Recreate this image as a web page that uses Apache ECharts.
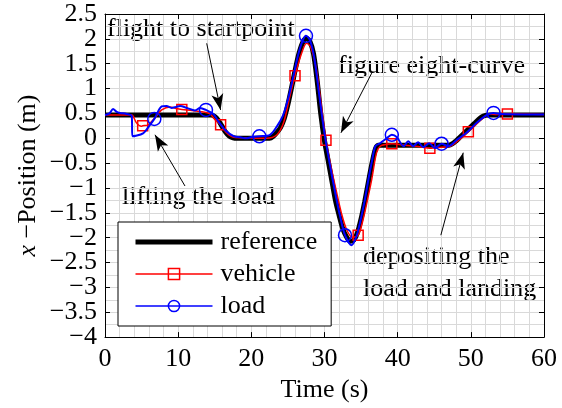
<!DOCTYPE html>
<html>
<head>
<meta charset="utf-8">
<script src="https://cdn.jsdelivr.net/npm/echarts@6/dist/echarts.min.js"></script>
<style>
  html, body { margin: 0; padding: 0; background: #fff; }
  #chart { width: 562px; height: 408px; }
</style>
</head>
<body>
<div id="chart"></div>
<script>
// values (time in s, position in m)
const refT = [0, 14.5, 15, 15.5, 16, 16.5, 17, 17.5, 18, 22.5, 23, 23.5, 24, 24.5, 25, 25.5, 26, 26.5, 27, 27.5,
  28, 28.5, 29, 29.5, 30, 30.5, 31, 31.5, 32, 32.5, 33, 33.5, 34, 34.5, 35, 35.5, 36, 36.5, 37, 37.4,
  47, 47.5, 48, 48.5, 49, 49.5, 50, 50.5, 51, 51.5, 52, 52.5, 60];
const refX = [0.47, 0.47, 0.44, 0.36, 0.24, 0.12, 0.04, 0.01, 0, 0, 0.04, 0.12, 0.22, 0.40, 0.68, 1.02, 1.38, 1.70, 1.92, 2.01,
  1.95, 1.70, 1.15, 0.48, -0.05, -0.45, -0.85, -1.25, -1.55, -1.82, -1.98, -2.07, -2.05, -1.90, -1.62, -1.27, -0.88, -0.50, -0.20, -0.14,
  -0.14, -0.11, -0.05, 0.02, 0.09, 0.16, 0.23, 0.30, 0.37, 0.43, 0.46, 0.47, 0.47];

const vehT = [0, 3.7, 3.9, 4.3, 4.97, 5.15, 5.9, 6.83, 7.75, 8.9, 9.7, 10.5, 11.85, 13, 14.35, 15, 15.8, 16.6, 17.6, 19.4,
  22.1, 23.5, 24.4, 25.2, 25.97, 26.87, 27.55, 28.1, 28.9, 29.6, 30.2, 30.9, 31.67, 32.3, 33, 33.8, 34.6, 35.3, 35.9, 36.45,
  37.1, 37.6, 38.5, 39.2, 41, 43, 44.4, 46, 47.2, 48, 49, 49.66, 50.7, 51.7, 52.6, 53.5, 55, 60];
const vehX = [0.47, 0.47, 0.43, 0.31, 0.24, 0.25, 0.27, 0.41, 0.57, 0.63, 0.60, 0.58, 0.56, 0.54, 0.49, 0.38, 0.27, 0.11, 0.02, 0.01,
  0, 0.07, 0.31, 0.80, 1.26, 1.71, 1.91, 1.84, 1.38, 0.62, -0.04, -0.58, -1.10, -1.50, -1.83, -1.99, -1.95, -1.62, -1.22, -0.83,
  -0.30, -0.16, -0.12, -0.11, -0.14, -0.17, -0.20, -0.18, -0.16, -0.08, 0.04, 0.13, 0.28, 0.41, 0.49, 0.48, 0.49, 0.48];
const vehMarks = [5.15, 10.5, 15.8, 25.97, 30.2, 34.6, 39.2, 44.4, 49.66, 55];

const loadT = [0, 0.6, 1.1, 1.6, 2.05, 2.96, 3.65, 3.75, 5.2, 6.15, 6.74, 7.75, 8.4, 9.1, 9.7, 10.25, 11.2, 12.3, 12.98, 13.8,
  14.8, 15.5, 16.6, 17.6, 18.5, 19.3, 20.2, 21.1, 22.55, 23.5, 24.3, 25, 25.7, 26.4, 27, 27.47, 28, 28.6, 29.3, 30,
  30.7, 31.4, 32.1, 32.8, 33.7, 34.3, 34.85, 35.5, 36, 36.5, 36.95, 37.6, 38.5, 39.2, 39.9, 40.8, 41.45, 42.1, 42.8, 43.5,
  44.3, 45.1, 46, 46.9, 48.1, 49.4, 50.8, 52.2, 53.1, 54, 60];
const loadX = [0.47, 0.50, 0.59, 0.53, 0.51, 0.49, 0.45, 0.04, 0.10, 0.27, 0.39, 0.64, 0.65, 0.61, 0.63, 0.65, 0.61, 0.56, 0.61, 0.57,
  0.49, 0.34, 0.14, 0.04, 0.02, 0, 0.03, 0.04, 0.07, 0.24, 0.45, 0.78, 1.22, 1.68, 1.96, 2.06, 1.98, 1.62, 0.85, 0.10,
  -0.50, -1.05, -1.55, -1.95, -2.15, -2.0, -1.70, -1.25, -0.83, -0.45, -0.16, -0.10, 0, 0.07, 0.02, -0.16, -0.06, -0.16, -0.08, -0.18,
  -0.10, -0.20, -0.11, -0.16, -0.03, 0.11, 0.31, 0.47, 0.51, 0.49, 0.48];
const loadMarks = [6.74, 13.8, 21.1, 27.47, 32.8, 39.2, 46, 53.1];

const FONT = 'Liberation Serif';
const GRID = '#d9d9d9';

function toPoints(ts, xs, marks, sym) {
  return ts.map((t, i) => ({ value: [t, xs[i]], symbol: marks.indexOf(t) >= 0 ? sym : 'none' }));
}
function minus(v) {
  return String(v).replace('-', '\u2212');
}
// y tick labels are 26px tall but only ~25px apart, so whole and half
// values go on two label-only axes to stop echarts dropping any of them
function wholeOnly(v) { return Number.isInteger(v) ? minus(v) : ''; }
function halfOnly(v) { return Number.isInteger(v) ? '' : minus(v); }

const chart = echarts.init(document.getElementById('chart'), null, { renderer: 'canvas' });

const boxAxis = {
  type: 'value',
  axisLine: { show: true, onZero: false, lineStyle: { color: '#000', width: 1 } },
  axisTick: { show: true, inside: true, length: 5, lineStyle: { color: '#000' } },
  axisLabel: { show: false },
  splitLine: { show: false }
};
const yLabel = { fontFamily: FONT, fontSize: 26, color: '#000', margin: 8 };

const option = {
  animation: false,
  backgroundColor: '#fff',
  textStyle: { fontFamily: FONT, color: '#000' },
  grid: { left: 105, right: 18, top: 14, bottom: 70 },
  xAxis: [{
    type: 'value', min: 0, max: 60, interval: 10,
    name: 'Time (s)', nameLocation: 'middle', nameGap: 32,
    nameTextStyle: { fontFamily: FONT, fontSize: 26, color: '#000' },
    axisLine: { onZero: false, lineStyle: { color: '#000', width: 1 } },
    axisTick: { inside: true, length: 5, lineStyle: { color: '#000' } },
    axisLabel: { fontFamily: FONT, fontSize: 26, color: '#000', margin: 9, showMinLabel: true, showMaxLabel: true },
    splitLine: { show: true, lineStyle: { color: GRID, width: 1 } },
    minorTick: { show: false, splitNumber: 5 },
    minorSplitLine: { show: true, lineStyle: { color: GRID, width: 1 } }
  }, Object.assign({}, boxAxis, { min: 0, max: 60, interval: 10, position: 'top' })],
  yAxis: [{
    type: 'value', min: -4, max: 2.5, interval: 0.5, position: 'left',
    name: '{i|x} \u2212Position (m)', nameLocation: 'middle', nameGap: 64,
    nameTextStyle: {
      fontFamily: FONT, fontSize: 26, color: '#000',
      rich: { i: { fontFamily: FONT, fontSize: 26, fontStyle: 'italic', color: '#000' } }
    },
    axisLine: { onZero: false, lineStyle: { color: '#000', width: 1 } },
    axisTick: { inside: true, length: 5, lineStyle: { color: '#000' } },
    axisLabel: Object.assign({}, yLabel, { formatter: wholeOnly, showMinLabel: true, showMaxLabel: false }),
    splitLine: { show: true, lineStyle: { color: GRID, width: 1 } },
    minorTick: { show: false, splitNumber: 2 },
    minorSplitLine: { show: true, lineStyle: { color: GRID, width: 1 } }
  }, Object.assign({}, boxAxis, { min: -4, max: 2.5, interval: 0.5, position: 'right' }), {
    type: 'value', min: -4, max: 2.5, interval: 0.5, position: 'left', offset: 0,
    axisLine: { show: false }, axisTick: { show: false }, splitLine: { show: false },
    axisLabel: Object.assign({}, yLabel, { formatter: halfOnly, showMinLabel: false, showMaxLabel: true })
  }],
  legend: {
    orient: 'vertical', left: 118, top: 222,
    padding: [7, 14, 7, 15],
    itemWidth: 77, itemHeight: 14, itemGap: 6,
    backgroundColor: '#fff', borderColor: '#000', borderWidth: 1, borderRadius: 0,
    textStyle: { fontFamily: FONT, fontSize: 26, color: '#000', padding: [0, 0, 0, 3] },
    data: [
      { name: 'reference', itemStyle: { opacity: 0 }, lineStyle: { width: 5, color: '#000' } },
      { name: 'vehicle', itemStyle: { color: 'transparent', borderColor: '#ff0000', borderWidth: 1.5 }, lineStyle: { width: 1.5, color: '#ff0000' } },
      { name: 'load', itemStyle: { color: 'transparent', borderColor: '#0000ff', borderWidth: 1.5 }, lineStyle: { width: 1.5, color: '#0000ff' } }
    ]
  },
  series: [{
    name: 'reference', type: 'line', symbol: 'none', smooth: 0.3,
    data: refT.map((t, i) => [t, refX[i]]),
    lineStyle: { color: '#000', width: 5 },
    itemStyle: { color: '#000' },
    z: 2,
    markLine: {
      silent: true, symbol: ['none', 'arrow'], symbolSize: [9, 16],
      label: { show: false },
      lineStyle: { color: '#000', width: 1, type: 'solid' },
      data: [
        [{ coord: [13.9, 1.91] }, { coord: [15.8, 0.57] }],
        [{ coord: [10.93, -0.96] }, { coord: [6.83, 0.07] }],
        [{ coord: [36.45, 1.31] }, { coord: [32.25, 0.11] }],
        [{ coord: [45.9, -1.95] }, { coord: [48.96, -0.29] }]
      ]
    }
  }, {
    name: 'vehicle', type: 'line', symbol: 'rect', symbolSize: 10, smooth: 0.3,
    showSymbol: true, showAllSymbol: true,
    data: toPoints(vehT, vehX, vehMarks, 'rect'),
    lineStyle: { color: '#ff0000', width: 1.5 },
    itemStyle: { color: 'transparent', borderColor: '#ff0000', borderWidth: 1.5 },
    z: 3
  }, {
    name: 'load', type: 'line', symbol: 'circle', symbolSize: 13, smooth: 0.3,
    showSymbol: true, showAllSymbol: true,
    data: toPoints(loadT, loadX, loadMarks, 'circle'),
    lineStyle: { color: '#0000ff', width: 2 },
    itemStyle: { color: 'transparent', borderColor: '#0000ff', borderWidth: 1.5 },
    z: 4
  }],
  graphic: [
    { type: 'text', left: 107, top: 16, style: { text: 'flight to startpoint', font: '26px "Liberation Serif"', fill: '#000' } },
    { type: 'text', left: 122, top: 184, style: { text: 'lifting the load', font: '26px "Liberation Serif"', fill: '#000' } },
    { type: 'text', left: 338, top: 53, style: { text: 'figure eight-curve', font: '26px "Liberation Serif"', fill: '#000' } },
    { type: 'text', left: 363, top: 241, style: { text: 'depositing the\nload and landing', font: '26px "Liberation Serif"', fill: '#000', lineHeight: 32 } }
  ]
};

chart.setOption(option);
</script>
</body>
</html>
